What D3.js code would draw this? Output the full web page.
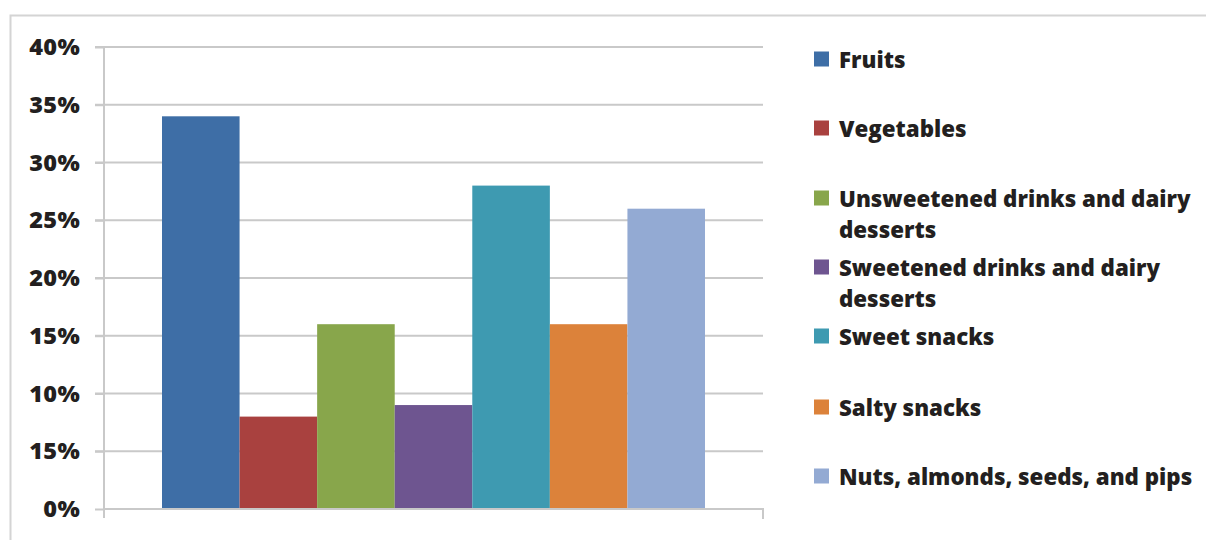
<!DOCTYPE html>
<html><head><meta charset="utf-8">
<script src="https://cdn.jsdelivr.net/npm/d3@7"></script>
<style>body{margin:0;background:#fff}svg{display:block}</style>
</head><body>
<svg id="c" width="1206" height="540"></svg>
<script>
const categories = ["Fruits","Vegetables","Unsweetened drinks and dairy desserts","Sweetened drinks and dairy desserts","Sweet snacks","Salty snacks","Nuts, almonds, seeds, and pips"];
const legendLines = [["Fruits"],["Vegetables"],["Unsweetened drinks and dairy","desserts"],["Sweetened drinks and dairy","desserts"],["Sweet snacks"],["Salty snacks"],["Nuts, almonds, seeds, and pips"]];
const values = [34, 8, 16, 9, 28, 16, 26];
const colors = ["#3e6ea6","#a9413f","#88a64b","#6e5590","#3e9ab1","#dc823a","#93aad3"];
const tickValues = [0,5,10,15,20,25,30,35,40];
const tickLabels = ["0%","15%","10%","15%","20%","25%","30%","35%","40%"];
const legendCenters = [59,128,198,267,336,407,476];

const svg = d3.select("#c");
const font = "'Open Sans', sans-serif";
const textColor = "#231f20";

// outer frame
svg.append("path").attr("d","M10.5,540 V15.5 H1206").attr("fill","none").attr("stroke","#d4d4d4").attr("stroke-width",2);

const x0 = 104, x1 = 763, yTop = 47, yBot = 509;
const y = d3.scaleLinear().domain([0,40]).range([yBot, yTop]);
const band = d3.scaleBand().domain(categories).range([162, 705]).padding(0);

// gridlines
svg.append("g").selectAll("line").data(tickValues.filter(d=>d>0)).join("line")
  .attr("x1", 95).attr("x2", x1).attr("y1", d=>y(d)).attr("y2", d=>y(d))
  .attr("stroke","#c9c9c9").attr("stroke-width",2);

// bars
svg.append("g").selectAll("rect").data(values).join("rect")
  .attr("x",(d,i)=>band(categories[i]))
  .attr("width", band.bandwidth())
  .attr("y", d=>y(d)).attr("height", d=>yBot - y(d))
  .attr("fill",(d,i)=>colors[i]);

// axes
const yAxis = d3.axisLeft(y).tickValues(tickValues).tickFormat((d,i)=>tickLabels[i]).tickSize(9).tickPadding(15);
const gy = svg.append("g").attr("transform",`translate(${x0},0)`).call(yAxis);
gy.select(".domain").attr("d",`M0,${yTop} V518`).attr("stroke","#c9c9c9").attr("stroke-width",2);
gy.selectAll(".tick line").attr("stroke","#c9c9c9").attr("stroke-width",2);
gy.selectAll(".tick text").attr("font-family",font).attr("font-weight",800).attr("font-size",23.5)
  .attr("letter-spacing",0.3).attr("fill",textColor);

// x axis line
svg.append("path").attr("d",`M${x0},${yBot} H${x1} V519`).attr("fill","none").attr("stroke","#c9c9c9").attr("stroke-width",2);

// legend
const lg = svg.append("g");
legendLines.forEach((lines,i)=>{
  const cy = legendCenters[i];
  lg.append("rect").attr("x",814).attr("y",cy-7.5).attr("width",15).attr("height",15).attr("fill",colors[i]);
  lines.forEach((t,j)=>{
    lg.append("text").attr("x",839).attr("y",cy+9+j*31).text(t)
      .attr("font-family",font).attr("font-weight",800).attr("font-size",22.3).attr("fill",textColor);
  });
});
</script>
</body></html>
